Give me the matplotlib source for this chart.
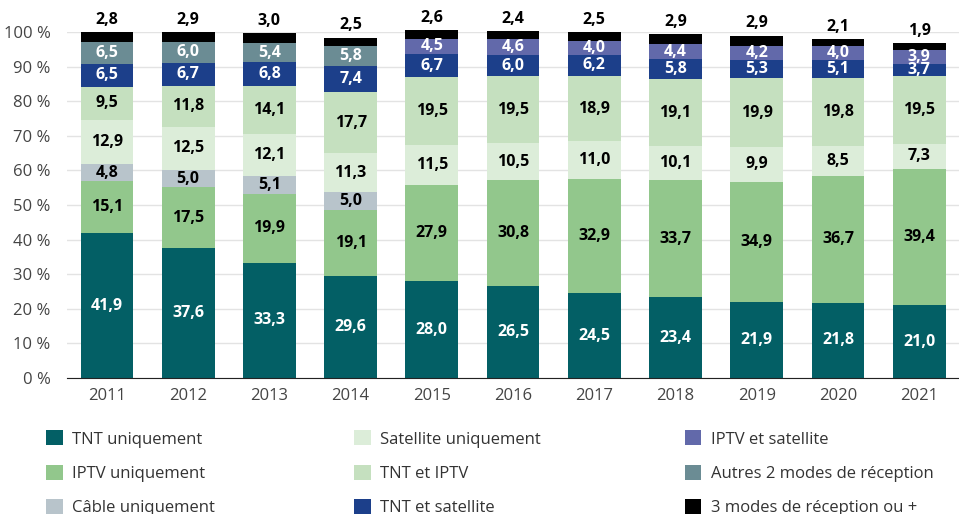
import matplotlib.pyplot as plt
import numpy as np

plt.rcParams['font.family'] = ['Open Sans', 'DejaVu Sans']

annees = ['2011', '2012', '2013', '2014', '2015', '2016', '2017', '2018', '2019', '2020', '2021']

# parts (%) par mode de réception, de bas en haut
tnt_seul = [41.9, 37.6, 33.3, 29.6, 28.0, 26.5, 24.5, 23.4, 21.9, 21.8, 21.0]
iptv_seul = [15.1, 17.5, 19.9, 19.1, 27.9, 30.8, 32.9, 33.7, 34.9, 36.7, 39.4]
cable_seul = [4.8, 5.0, 5.1, 5.0, 0, 0, 0, 0, 0, 0, 0]
sat_seul = [12.9, 12.5, 12.1, 11.3, 11.5, 10.5, 11.0, 10.1, 9.9, 8.5, 7.3]
tnt_iptv = [9.5, 11.8, 14.1, 17.7, 19.5, 19.5, 18.9, 19.1, 19.9, 19.8, 19.5]
tnt_sat = [6.5, 6.7, 6.8, 7.4, 6.7, 6.0, 6.2, 5.8, 5.3, 5.1, 3.7]
autres_2 = [6.5, 6.0, 5.4, 5.8, 0, 0, 0, 0, 0, 0, 0]
iptv_sat = [0, 0, 0, 0, 4.5, 4.6, 4.0, 4.4, 4.2, 4.0, 3.9]
trois_modes = [2.8, 2.9, 3.0, 2.5, 2.6, 2.4, 2.5, 2.9, 2.9, 2.1, 1.9]

series = [
    ("TNT uniquement", tnt_seul, '#035f65', 'white'),
    ("IPTV uniquement", iptv_seul, '#92c78c', 'black'),
    ("Câble uniquement", cable_seul, '#b8c4cb', 'black'),
    ("Satellite uniquement", sat_seul, '#dcedd9', 'black'),
    ("TNT et IPTV", tnt_iptv, '#c5e0bf', 'black'),
    ("TNT et satellite", tnt_sat, '#1c3f8a', 'white'),
    ("Autres 2 modes de réception", autres_2, '#6b8c94', 'white'),
    ("IPTV et satellite", iptv_sat, '#6269aa', 'white'),
    ("3 modes de réception ou +", trois_modes, '#000000', None),
]

fig = plt.figure(figsize=(9.59, 5.14), dpi=100)
ax = fig.add_axes([0.070, 0.2646, 0.930, 0.673])

x = np.arange(len(annees))
bas = np.zeros(len(annees))
handles = {}
for nom, vals, coul, coul_txt in series:
    vals = np.array(vals)
    b = ax.bar(x, vals, 0.65, bottom=bas, color=coul, clip_on=False, zorder=3)
    handles[nom] = b
    for i, v in enumerate(vals):
        if v <= 0:
            continue
        if coul_txt is None:
            ax.text(x[i], bas[i] + v + 1.2, f"{v:.1f}".replace('.', ','),
                    ha='center', va='bottom', fontsize=11.5, fontweight='bold',
                    color='black', clip_on=False)
        else:
            ax.text(x[i], bas[i] + v / 2, f"{v:.1f}".replace('.', ','),
                    ha='center', va='center', fontsize=11.5, fontweight='bold',
                    color=coul_txt, zorder=4)
    bas += vals

ax.set_xlim(-0.49, 10.49)
ax.set_ylim(0, 100)
ax.set_yticks(np.arange(0, 101, 10))
ax.set_yticklabels([f"{v} %" for v in range(0, 101, 10)])
ax.set_xticks(x)
ax.set_xticklabels(annees)
ax.tick_params(axis='both', length=0, labelsize=12, colors='#444444')
ax.tick_params(axis='y', pad=12)
ax.tick_params(axis='x', pad=7)
ax.grid(axis='y', color='#e3e3e3', lw=1, zorder=0)
for s in ['top', 'right', 'left']:
    ax.spines[s].set_visible(False)
ax.spines['bottom'].set_color('#222222')
ax.spines['bottom'].set_zorder(5)

# légende sur trois colonnes placées à la main
colonnes = [
    ["TNT uniquement", "IPTV uniquement", "Câble uniquement"],
    ["Satellite uniquement", "TNT et IPTV", "TNT et satellite"],
    ["IPTV et satellite", "Autres 2 modes de réception", "3 modes de réception ou +"],
]
x_cols = [0.048, 0.369, 0.714]
for xc, noms in zip(x_cols, colonnes):
    fig.legend([handles[n] for n in noms], noms, loc='upper left',
               bbox_to_anchor=(xc, 0.1625), frameon=False, fontsize=12,
               handlelength=1.0, handleheight=1.0, handletextpad=0.55,
               labelspacing=1.02, borderaxespad=0, borderpad=0,
               labelcolor='#333333')

fig.savefig('out.png', dpi=100)
